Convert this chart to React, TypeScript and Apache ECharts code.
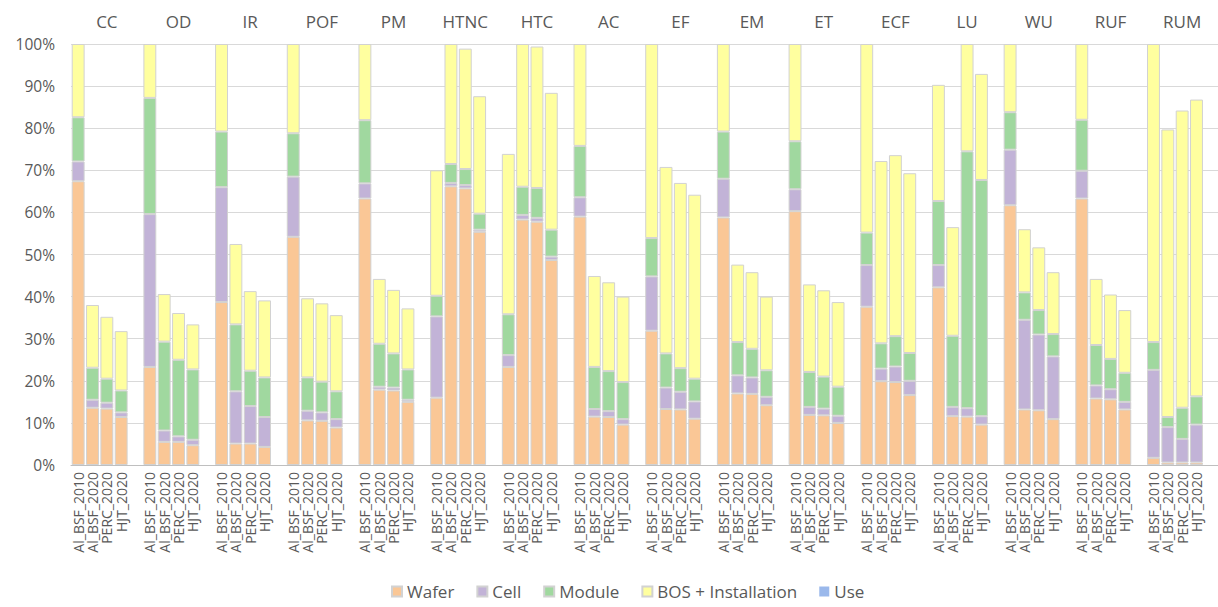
import React, { useEffect, useRef } from "react";
import * as echarts from "echarts";

const groups = ["CC", "OD", "IR", "POF", "PM", "HTNC", "HTC", "AC", "EF", "EM", "ET", "ECF", "LU", "WU", "RUF", "RUM"];
const techs = ["Al_BSF_2010", "Al_BSF_2020", "PERC_2020", "HJT_2020"];
const seriesNames = ["Wafer", "Cell", "Module", "BOS + Installation", "Use"];

// values in % per group: [Al_BSF_2010, Al_BSF_2020, PERC_2020, HJT_2020]
const wafer = [
  [67.4, 13.6, 13.4, 11.4], [23.3, 5.5, 5.5, 4.7], [38.7, 5.1, 5.1, 4.3], [54.2, 10.6, 10.5, 8.9],
  [63.3, 17.9, 17.7, 15.0], [16.0, 66.2, 65.7, 55.4], [23.3, 58.3, 57.8, 48.7], [59.0, 11.5, 11.4, 9.6],
  [31.9, 13.3, 13.2, 11.0], [58.8, 17.0, 16.9, 14.2], [60.3, 11.9, 11.8, 10.0], [37.6, 19.9, 19.7, 16.6],
  [42.2, 11.6, 11.5, 9.6], [61.7, 13.2, 13.0, 10.9], [63.3, 15.8, 15.6, 13.2], [1.7, 0.6, 0.6, 0.6],
];
const cell = [
  [4.7, 1.9, 1.4, 1.1], [36.3, 2.7, 1.3, 1.3], [27.3, 12.4, 8.9, 7.1], [14.3, 2.3, 2.0, 2.0],
  [3.6, 0.7, 0.7, 0.5], [19.3, 0.8, 0.8, 0.5], [2.8, 1.1, 0.9, 0.8], [4.6, 1.8, 1.4, 1.3],
  [12.9, 5.1, 4.2, 4.1], [9.2, 4.3, 3.9, 2.0], [5.2, 1.9, 1.6, 1.7], [9.9, 3.0, 3.7, 3.4],
  [5.3, 2.2, 2.0, 2.0], [13.2, 21.3, 18.0, 14.9], [6.6, 3.1, 2.4, 1.8], [20.9, 8.4, 5.6, 9.0],
];
const moduleV = [
  [10.5, 7.6, 5.7, 5.2], [27.6, 21.1, 18.2, 16.7], [13.2, 15.9, 8.4, 9.4], [10.3, 7.9, 7.3, 6.6],
  [15.0, 10.2, 8.1, 7.2], [4.9, 4.5, 3.8, 3.8], [9.7, 6.7, 7.1, 6.4], [12.2, 10.0, 9.5, 8.8],
  [9.1, 8.1, 5.6, 5.4], [11.2, 7.9, 6.8, 6.3], [11.4, 8.3, 7.6, 6.9], [7.7, 6.0, 7.2, 6.6],
  [15.2, 16.9, 61.0, 56.1], [8.9, 6.5, 5.8, 5.3], [12.1, 9.6, 7.2, 6.9], [6.6, 2.4, 7.4, 6.7],
];
const bos = [
  [17.4, 14.9, 14.7, 14.1], [12.8, 11.3, 11.1, 10.7], [20.8, 19.1, 18.9, 18.3], [21.2, 18.8, 18.6, 18.1],
  [18.1, 15.4, 15.1, 14.5], [29.8, 28.5, 28.6, 27.9], [38.1, 33.9, 33.6, 32.5], [24.2, 21.6, 21.1, 20.3],
  [46.1, 44.3, 44.0, 43.7], [20.8, 18.4, 18.2, 17.5], [23.1, 20.8, 20.5, 20.1], [44.8, 43.3, 43.0, 42.7],
  [27.6, 25.8, 25.5, 25.2], [16.2, 15.0, 14.9, 14.7], [18.0, 15.7, 15.3, 14.9], [70.8, 68.3, 70.6, 70.5],
];
const use = [
  [0, 0, 0, 0], [0, 0, 0, 0], [0, 0, 0, 0], [0, 0, 0, 0],
  [0, 0, 0, 0], [0, 0, 0, 0], [0, 0, 0, 0], [0, 0, 0, 0],
  [0, 0, 0, 0], [0, 0, 0, 0], [0, 0, 0, 0], [0, 0, 0, 0],
  [0, 0, 0, 0], [0, 0, 0, 0], [0, 0, 0, 0], [0, 0, 0, 0],
];
const yTicks = [0, 10, 20, 30, 40, 50, 60, 70, 80, 90, 100];
const colors = ["#FAC796", "#C2B3D7", "#A0D89F", "#FFFF9F", "#9AB8EB"];

const FONT = "'Century Gothic', 'Open Sans', sans-serif";
const TXT = "#595959";

function flatten(arr: number[][]): (number | null)[] {
  const out: (number | null)[] = [];
  arr.forEach((g) => {
    g.forEach((v) => out.push(v));
    out.push(null);
  });
  return out;
}

export default function App() {
  const ref = useRef<HTMLDivElement>(null);
  useEffect(() => {
    if (!ref.current) return;
    const chart = echarts.init(ref.current, null, { renderer: "svg" });
    const cats: string[] = [];
    groups.forEach(() => {
      techs.forEach((t) => cats.push(t));
      cats.push("");
    });
    const all = [wafer, cell, moduleV, bos, use];
    chart.setOption({
      animation: false,
      textStyle: { fontFamily: FONT },
      legend: {
        data: seriesNames,
        bottom: 2,
        left: 386,
        itemWidth: 10,
        itemHeight: 10,
        itemGap: 22,
        icon: "rect",
        textStyle: { color: TXT, fontSize: 17, fontFamily: FONT },
      },
      grid: { left: 71, top: 44, width: 1158, height: 421, containLabel: false },
      xAxis: [
        {
          type: "category",
          data: cats,
          boundaryGap: true,
          axisLine: { show: true, lineStyle: { color: "#BFBFBF", width: 1 } },
          axisTick: { show: false },
          axisLabel: { rotate: 90, color: TXT, fontSize: 14, fontFamily: FONT, interval: 0, margin: 7 },
          splitLine: { show: false },
        },
        {
          type: "category",
          data: groups,
          position: "top",
          boundaryGap: true,
          axisLine: { show: false },
          axisTick: { show: false },
          axisLabel: { color: TXT, fontSize: 17, fontFamily: FONT, interval: 0, margin: 14 },
          splitLine: { show: false },
        },
      ],
      yAxis: {
        type: "value",
        min: yTicks[0],
        max: yTicks[yTicks.length - 1],
        interval: 10,
        axisLine: { show: false },
        axisTick: { show: false },
        axisLabel: { formatter: "{value}%", color: TXT, fontSize: 15.5, fontFamily: FONT, margin: 16 },
        splitLine: { lineStyle: { color: "#D9D9D9", width: 1 } },
      },
      series: seriesNames.map((name, i) => ({
        name,
        type: "bar",
        stack: "total",
        xAxisIndex: 0,
        barCategoryGap: "10%",
        data: flatten(all[i]),
        itemStyle: {
          color: colors[i],
          borderColor: i === 4 ? "transparent" : "#D2D2D2",
          borderWidth: i === 4 ? 0 : 1,
        },
      })),
    });
    return () => chart.dispose();
  }, []);
  return <div ref={ref} style={{ position: "absolute", left: 0, top: 0, width: 1218, height: 607 }} />;
}
